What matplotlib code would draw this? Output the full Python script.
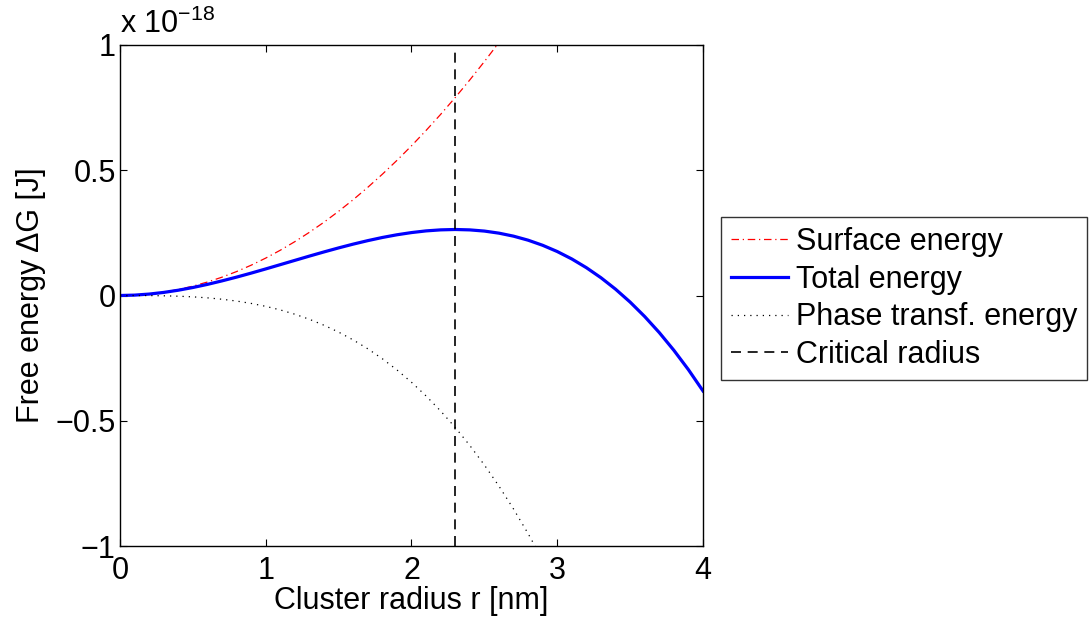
import matplotlib
matplotlib.use("Agg")
import matplotlib.pyplot as plt

plt.rcParams['font.family'] = ['Liberation Sans', 'DejaVu Sans']

# Cluster radius [nm], step 0.1 from 0 to 4
r_nm = [0.0, 0.1, 0.2, 0.3, 0.4, 0.5, 0.6, 0.7, 0.8, 0.9, 1.0,
        1.1, 1.2, 1.3, 1.4, 1.5, 1.6, 1.7, 1.8, 1.9, 2.0,
        2.1, 2.2, 2.3, 2.4, 2.5, 2.6, 2.7, 2.8, 2.9, 3.0,
        3.1, 3.2, 3.3, 3.4, 3.5, 3.6, 3.7, 3.8, 3.9, 4.0]
# energies in units of 1e-18 J
surface_energy = [0.0, 0.0015, 0.006, 0.0134, 0.0239, 0.0374, 0.0538, 0.0732, 0.0956, 0.1210,
                  0.1494, 0.1808, 0.2151, 0.2525, 0.2928, 0.3362, 0.3825, 0.4318, 0.4841,
                  0.5393, 0.5976, 0.6589, 0.7231, 0.7903, 0.8605, 0.9338, 1.0099, 1.0891,
                  1.1713]
phase_energy = [0.0, -0.00004, -0.0003, -0.0012, -0.0028, -0.0054, -0.0094, -0.0149, -0.0222,
                -0.0316, -0.0433, -0.0576, -0.0748, -0.0951, -0.1188, -0.1461, -0.1774,
                -0.2127, -0.2525, -0.2970, -0.3464, -0.4010, -0.4611, -0.5268, -0.5986,
                -0.6766, -0.7610, -0.8523, -0.9505, -1.0560, -1.169]
total_energy = [0.0, 0.0015, 0.0057, 0.0123, 0.0211, 0.0319, 0.0444, 0.0584, 0.0734, 0.0894,
                0.1061, 0.1232, 0.1403, 0.1574, 0.1740, 0.1900, 0.2051, 0.2190, 0.2316,
                0.2424, 0.2512, 0.2579, 0.2620, 0.2635, 0.2619, 0.2572, 0.2489, 0.2369,
                0.2208, 0.2004, 0.1755, 0.1458, 0.1110, 0.0709, 0.0252, -0.0263, -0.0840,
                -0.1480, -0.2187, -0.2961, -0.381]
critical_radius = 2.3
x_ticks = [0, 1, 2, 3, 4]
y_ticks = [-1, -0.5, 0, 0.5, 1]
y_tick_labels = ['\u22121', '\u22120.5', '0', '0.5', '1']

W, H = 1092, 625
FS = 22
fig = plt.figure(figsize=(W / 100, H / 100), dpi=100)
ax = fig.add_axes([120 / W, 1 - 546 / H, (703 - 120) / W, (546 - 45) / H])

ax.plot(r_nm[:len(surface_energy)], surface_energy, color='red', linestyle=(0, (6, 3, 1, 3)),
        linewidth=0.9, label='Surface energy')
ax.plot(r_nm, total_energy, color='blue', linestyle='-', linewidth=2.3,
        label='Total energy')
ax.plot(r_nm[:len(phase_energy)], phase_energy, color='black', linestyle=(0, (1, 4)),
        linewidth=0.9, label='Phase transf. energy')
ax.plot([critical_radius, critical_radius], [-1, 1], color='black', linestyle=(0, (6, 4)),
        linewidth=1.2, label='Critical radius')

ax.set_xlim(0, 4)
ax.set_ylim(-1, 1)
ax.set_xticks(x_ticks)
ax.set_xticklabels([str(t) for t in x_ticks])
ax.set_yticks(y_ticks)
ax.set_yticklabels(y_tick_labels)
ax.tick_params(direction='in', length=5, width=0.8, labelsize=FS, top=True, right=True)
ax.tick_params(axis='x', pad=7)
ax.tick_params(axis='y', pad=3)
for s in ax.spines.values():
    s.set_linewidth(1.0)

ax.set_xlabel('Cluster radius r [nm]', fontsize=FS, labelpad=0)
ax.set_ylabel('Free energy \u0394G [J]', fontsize=FS, labelpad=7)
ax.text(0.0, 1.01, 'x 10$^{\\mathregular{\u221218}}$', transform=ax.transAxes,
        fontsize=FS, ha='left', va='bottom')

leg = fig.legend(loc='upper left', bbox_to_anchor=(721 / W, 1 - 217 / H),
                 fontsize=FS, frameon=True, fancybox=False, edgecolor='black',
                 handlelength=1.85, handletextpad=0.26, borderpad=0.33, labelspacing=0.25,
                 borderaxespad=0)
leg.get_frame().set_linewidth(1.0)

fig.savefig('out.png', dpi=100)
